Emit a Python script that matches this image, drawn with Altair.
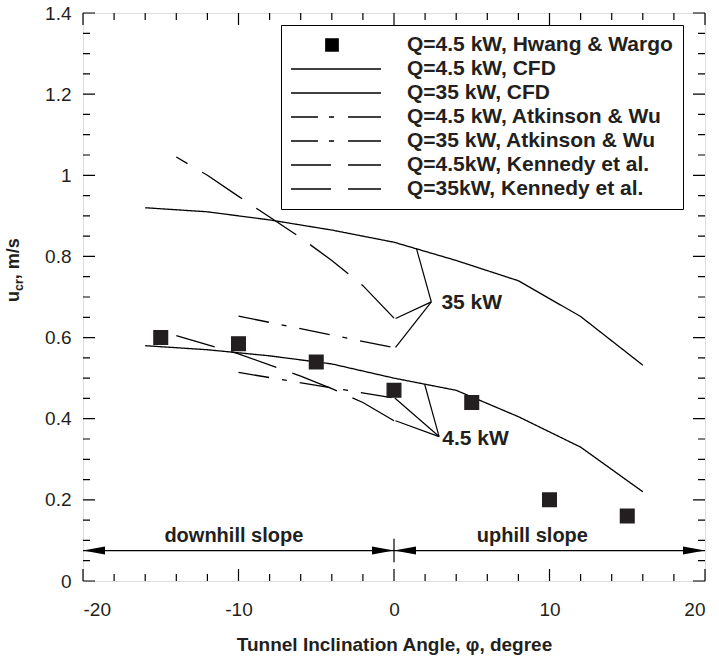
import altair as alt
import pandas as pd

# ---------------- data ----------------
SERIES = [
    "Q=4.5 kW, Hwang & Wargo",
    "Q=4.5 kW, CFD",
    "Q=35 kW, CFD",
    "Q=4.5 kW, Atkinson & Wu",
    "Q=35 kW, Atkinson & Wu",
    "Q=4.5kW, Kennedy et al.",
    "Q=35kW, Kennedy et al.",
]

HW_X = [-15, -10, -5, 0, 5, 10, 15]
HW_Y = [0.60, 0.585, 0.54, 0.47, 0.44, 0.20, 0.16]

CFD45_X = [-16, -12, -8, -4, 0, 4, 8, 12, 16]
CFD45_Y = [0.58, 0.57, 0.555, 0.535, 0.50, 0.47, 0.405, 0.33, 0.22]
CFD35_X = [-16, -12, -8, -4, 0, 4, 8, 12, 16]
CFD35_Y = [0.92, 0.91, 0.89, 0.865, 0.835, 0.79, 0.74, 0.652, 0.532]

AW45_X = [-10, 0]
AW45_Y = [0.514, 0.451]
AW35_X = [-10, 0]
AW35_Y = [0.653, 0.575]

KEN45_X = [-14, -10, -6, -4, -2, 0]
KEN45_Y = [0.605, 0.56, 0.505, 0.474, 0.44, 0.395]
KEN35_X = [-14, -12, -10, -8, -6, -4, -2, 0]
KEN35_Y = [1.045, 1.0, 0.948, 0.897, 0.846, 0.79, 0.728, 0.648]

# leader lines for the "35 kW" / "4.5 kW" callouts
LEAD_X = [1.44, 0.1, 0.1, 1.97, 0.05, 0.1]
LEAD_Y = [0.82, 0.647, 0.576, 0.485, 0.451, 0.395]
LEAD_X2 = [2.4, 2.4, 2.4, 2.9, 2.9, 2.9]
LEAD_Y2 = [0.688, 0.688, 0.688, 0.356, 0.356, 0.356]

CALLOUT_TEXT = ["35 kW", "4.5 kW"]
CALLOUT_X = [3.05, 3.1]
CALLOUT_Y = [0.686, 0.35]

# downhill / uphill arrows
ARROW_X1 = [-20, 0]
ARROW_X2 = [0, 20]
ARROW_Y = [0.075, 0.075]
HEAD_LEFT_X = [-20, 0]
HEAD_RIGHT_X = [0, 20]
MARK_X = [0]
MARK_Y1 = [0.046]
MARK_Y2 = [0.104]
SLOPE_TEXT = ["downhill slope", "uphill slope"]
SLOPE_X = [-10.3, 8.9]
SLOPE_Y = [0.096, 0.096]

X_LABELS = [-20, -10, 0, 10, 20]
X_MAJOR_TICKS = [-20, -10, 0, 10, 20]
X_MINOR_TICKS = [-18, -16, -14, -12, -8, -6, -4, -2, 2, 4, 6, 8, 12, 14, 16, 18]
Y_LABELS = [0, 0.2, 0.4, 0.6, 0.8, 1, 1.2, 1.4]
Y_MAJOR_TICKS = [0, 0.2, 0.4, 0.6, 0.8, 1, 1.2, 1.4]
Y_MINOR_TICKS = [0.05, 0.1, 0.15, 0.25, 0.3, 0.35, 0.45, 0.5, 0.55, 0.65, 0.7, 0.75,
                 0.85, 0.9, 0.95, 1.05, 1.1, 1.15, 1.25, 1.3, 1.35]

X_TITLE = "Tunnel Inclination Angle, \u03c6, degree"

# ---------------- styling ----------------
W, H = 622, 568
X0, X1 = -20, 20
Y0, Y1 = 0, 1.4
MAJOR, MINOR = 12, 7          # tick lengths in pixels
PX_X = (X1 - X0) / W          # data units per pixel
PX_Y = (Y1 - Y0) / H
FONT = "Liberation Sans"
TXT = "#231f20"
SQUARE = "M-0.14,-0.14L0.14,-0.14L0.14,0.14L-0.14,0.14Z"
# legend line samples drawn as thin filled bars (unit box -1..1 -> 98 px)
T = 0.0135
SOLID_PATH = f"M-1,-{T}L1,-{T}L1,{T}L-1,{T}Z"
DASHDOT_PATH = (f"M-1,-{T}L-0.286,-{T}L-0.286,{T}L-1,{T}Z"
                f"M-0.061,-{T}L0.041,-{T}L0.041,{T}L-0.061,{T}Z"
                f"M0.327,-{T}L1,-{T}L1,{T}L0.327,{T}Z")
LONGDASH_PATH = (f"M-1,-{T}L-0.02,-{T}L-0.02,{T}L-1,{T}Z"
                 f"M0.327,-{T}L1,-{T}L1,{T}L0.327,{T}Z")
LEFT_HEAD = "M0,0L2,-0.36L2,0.36Z"
RIGHT_HEAD = "M0,0L-2,-0.36L-2,0.36Z"
SOLID = [1, 0]
DASHDOT = [31, 13, 5, 13]
LONGDASH = [48, 17]
DASHES = [SOLID, SOLID, SOLID, DASHDOT, DASHDOT, LONGDASH, LONGDASH]
SHAPES = [SQUARE, SOLID_PATH, SOLID_PATH, DASHDOT_PATH, DASHDOT_PATH, LONGDASH_PATH, LONGDASH_PATH]

# ---------------- tables ----------------
rows = []
for name, xv, yv in [
    (SERIES[1], CFD45_X, CFD45_Y),
    (SERIES[2], CFD35_X, CFD35_Y),
    (SERIES[3], AW45_X, AW45_Y),
    (SERIES[4], AW35_X, AW35_Y),
    (SERIES[5], KEN45_X, KEN45_Y),
    (SERIES[6], KEN35_X, KEN35_Y),
]:
    for a, b in zip(xv, yv):
        rows.append({"series": name, "x": a, "y": b})
lines_df = pd.DataFrame(rows)
points_df = pd.DataFrame({"series": [SERIES[0]] * len(HW_X), "x": HW_X, "y": HW_Y})

# segment table: callout leader lines plus inward ticks on all four frame sides
seg_rows = [{"x": a, "y": b, "x2": c, "y2": d} for a, b, c, d in zip(LEAD_X, LEAD_Y, LEAD_X2, LEAD_Y2)]
for vals, ln in ((X_MAJOR_TICKS, MAJOR), (X_MINOR_TICKS, MINOR)):
    for v in vals:
        seg_rows.append({"x": v, "x2": v + 1e-6, "y": Y0, "y2": Y0 + ln * PX_Y})
        seg_rows.append({"x": v, "x2": v + 1e-6, "y": Y1, "y2": Y1 - ln * PX_Y})
for vals, ln in ((Y_MAJOR_TICKS, MAJOR), (Y_MINOR_TICKS, MINOR)):
    for v in vals:
        seg_rows.append({"x": X0, "x2": X0 + ln * PX_X, "y": v, "y2": v + 1e-6})
        seg_rows.append({"x": X1, "x2": X1 - ln * PX_X, "y": v, "y2": v + 1e-6})
seg_df = pd.DataFrame(seg_rows)

callout_df = pd.DataFrame({"t": CALLOUT_TEXT, "x": CALLOUT_X, "y": CALLOUT_Y})
arrow_df = pd.DataFrame({"x": ARROW_X1, "x2": ARROW_X2, "y": ARROW_Y})
headl_df = pd.DataFrame({"x": HEAD_LEFT_X, "y": ARROW_Y})
headr_df = pd.DataFrame({"x": HEAD_RIGHT_X, "y": ARROW_Y})
mark_df = pd.DataFrame({"x": MARK_X, "y": MARK_Y1, "y2": MARK_Y2})
slope_df = pd.DataFrame({"t": SLOPE_TEXT, "x": SLOPE_X, "y": SLOPE_Y})

xs = alt.Scale(domain=[X0, X1], nice=False, zero=False)
ys = alt.Scale(domain=[Y0, Y1], nice=False, zero=False)

legend = alt.Legend(title=None, orient="none", legendX=198, legendY=12, symbolSize=9604,
                    symbolStrokeWidth=0, symbolFillColor="black", symbolOffset=-8,
                    labelFont=FONT, labelFontSize=21, labelFontWeight="bold", labelColor=TXT,
                    labelLimit=0, labelOffset=26, padding=10, rowPadding=3, clipHeight=20,
                    strokeColor="black", fillColor="white")

dash_scale = alt.Scale(domain=SERIES, range=DASHES)
shape_scale = alt.Scale(domain=SERIES, range=SHAPES)

# one axis definition shared by every layer, so the layers merge into one axis per side
X_AXIS = alt.Axis(values=X_LABELS, labelExpr="'' + datum.value", ticks=False, domain=False,
                  grid=False, labelPadding=19, labelFontSize=19, labelFont=FONT,
                  labelColor=TXT, title=X_TITLE, titleFontSize=19, titleFont=FONT,
                  titleFontWeight="bold", titleColor=TXT, titlePadding=16)
Y_AXIS = alt.Axis(values=Y_LABELS, labelExpr="'' + datum.value", ticks=False, domain=False,
                  grid=False, labelPadding=12, labelFontSize=19, labelFont=FONT,
                  labelColor=TXT, title=None)


def X(field):
    return alt.X(field, scale=xs, axis=X_AXIS, title=X_TITLE)


def Y(field):
    return alt.Y(field, scale=ys, axis=Y_AXIS, title=None)


DASH_OFFSET = {SERIES[5]: 8, SERIES[6]: 35}

lines = alt.Chart(lines_df).mark_line(strokeWidth=1.3, color="black").encode(
    x=X("x:Q"), y=Y("y:Q"),
    strokeDash=alt.StrokeDash("series:N", scale=dash_scale, legend=legend),
).transform_filter(alt.FieldOneOfPredicate(field="series", oneOf=SERIES[1:5]))

ken_layers = []
for name in (SERIES[5], SERIES[6]):
    ken_layers.append(
        alt.Chart(lines_df).mark_line(strokeWidth=1.3, color="black",
                                      strokeDashOffset=DASH_OFFSET[name]).encode(
            x=X("x:Q"), y=Y("y:Q"),
            strokeDash=alt.StrokeDash("series:N", scale=dash_scale, legend=legend),
        ).transform_filter(alt.FieldEqualPredicate(field="series", equal=name))
    )

points = alt.Chart(points_df).mark_point(filled=False, fill="#231f20", stroke="#231f20",
                                         strokeWidth=1.3, size=9604, opacity=1).encode(
    x=X("x:Q"), y=Y("y:Q"),
    shape=alt.Shape("series:N", scale=shape_scale, legend=legend),
    strokeDash=alt.StrokeDash("series:N", scale=dash_scale, legend=legend),
)

segments = alt.Chart(seg_df).mark_rule(strokeWidth=1.2, color="black").encode(
    x=X("x:Q"), y=Y("y:Q"), x2="x2:Q", y2="y2:Q")

callouts = alt.Chart(callout_df).mark_text(align="left", baseline="middle", font=FONT, fontSize=21,
                                           fontWeight="bold", color=TXT).encode(
    x=X("x:Q"), y=Y("y:Q"), text="t:N")

arrows = alt.Chart(arrow_df).mark_rule(strokeWidth=1.3, color="black").encode(
    x=X("x:Q"), x2="x2:Q", y=Y("y:Q"))

heads_l = alt.Chart(headl_df).mark_point(shape=LEFT_HEAD, size=484, filled=True, opacity=1,
                                         color="black").encode(x=X("x:Q"), y=Y("y:Q"))
heads_r = alt.Chart(headr_df).mark_point(shape=RIGHT_HEAD, size=484, filled=True, opacity=1,
                                         color="black").encode(x=X("x:Q"), y=Y("y:Q"))

marker = alt.Chart(mark_df).mark_rule(strokeWidth=1.2, color="black").encode(
    x=X("x:Q"), y=Y("y:Q"), y2="y2:Q")

slopes = alt.Chart(slope_df).mark_text(align="center", baseline="alphabetic", font=FONT, fontSize=20,
                                       fontWeight="bold", color=TXT).encode(
    x=X("x:Q"), y=Y("y:Q"), text="t:N")

# y-axis title "u_cr, m/s" with a subscript, drawn as rotated text pieces
YT_TEXT = ["u", "cr", ", m/s"]
YT_SIZE = [18, 12.5, 18]
yt_layers = []
for t, fs, ypos, xpos in zip(YT_TEXT, YT_SIZE, [289, 278, 266.2], [-64, -60, -64]):
    yt_layers.append(
        alt.Chart(pd.DataFrame({"t": [t]})).mark_text(
            angle=270, align="left", baseline="alphabetic", font=FONT, fontSize=fs,
            fontWeight="bold", color=TXT).encode(
            x=alt.value(xpos), y=alt.value(ypos), text="t:N")
    )

chart = alt.layer(lines, *ken_layers, points, segments, callouts, arrows, heads_l, heads_r,
                  marker, slopes, *yt_layers).properties(
    width=W, height=H,
    autosize=alt.AutoSizeParams(type="none"),
    padding={"left": 83, "top": 13, "right": 14, "bottom": 77},
).configure_view(stroke="black", strokeWidth=1.3).configure(background="white")

chart.save("out.html", embed_options={"renderer": "svg", "actions": False})
